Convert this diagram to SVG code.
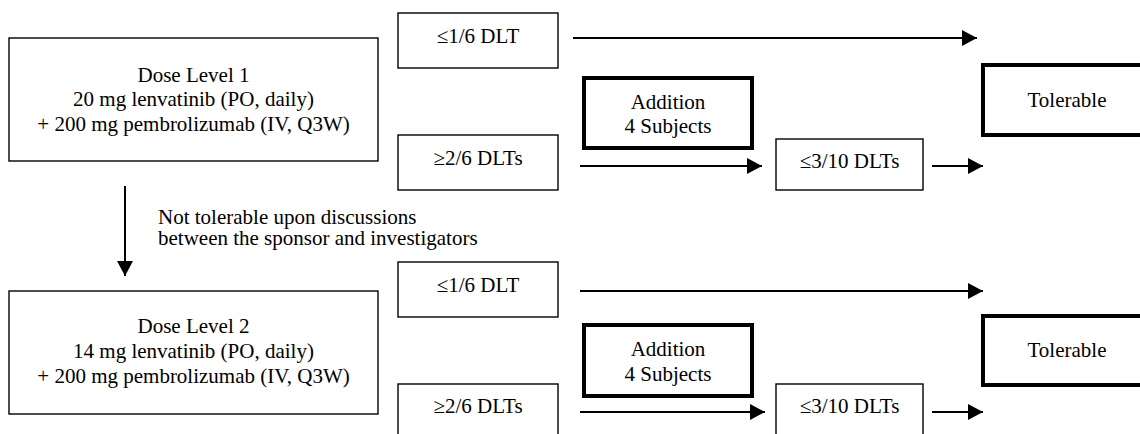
<svg xmlns="http://www.w3.org/2000/svg" width="1140" height="434" viewBox="0 0 1140 434">
<defs>
<marker id="ahb" markerWidth="15" markerHeight="16" refX="15" refY="8" orient="auto" markerUnits="userSpaceOnUse" viewBox="0 0 15 16">
<path d="M0,0 L15,8 L0,16 Z" fill="#000"/>
</marker>
</defs>
<style>
text{font-family:"Liberation Serif","Times New Roman",serif;font-size:21px;fill:#000;text-anchor:middle}
.thin{fill:#fff;stroke:#000;stroke-width:1.4}
.thick{fill:#fff;stroke:#000;stroke-width:4}
.conn{stroke:#000;stroke-width:2;fill:none}
.lbl{text-anchor:start}
</style>
<rect width="1140" height="434" fill="#fff"/>
<g id="connectors">
<line class="conn" x1="573" y1="38" x2="977" y2="38" marker-end="url(#ahb)"/>
<line class="conn" x1="580" y1="166" x2="762" y2="166" marker-end="url(#ahb)"/>
<line class="conn" x1="932" y1="166" x2="983" y2="166" marker-end="url(#ahb)"/>
<line class="conn" x1="125" y1="186" x2="125" y2="276" marker-end="url(#ahb)"/>
<line class="conn" x1="580" y1="291" x2="983" y2="291" marker-end="url(#ahb)"/>
<line class="conn" x1="580" y1="412" x2="765" y2="412" marker-end="url(#ahb)"/>
<line class="conn" x1="932" y1="412" x2="983" y2="412" marker-end="url(#ahb)"/>
</g>
<g id="note">
<text class="lbl" x="158" y="224">Not tolerable upon discussions</text>
<text class="lbl" x="158" y="245">between the sponsor and investigators</text>
</g>
<g id="dose1">
<rect class="thin" x="9" y="38" width="369" height="123"/>
<text x="193.5" y="82">Dose Level 1</text>
<text x="193.5" y="106">20 mg lenvatinib (PO, daily)</text>
<text x="193.5" y="131">+ 200 mg pembrolizumab (IV, Q3W)</text>
</g>
<g id="dlt1a">
<rect class="thin" x="398" y="13" width="160" height="55"/>
<text x="478" y="43">≤1/6 DLT</text>
</g>
<g id="add1">
<rect class="thick" x="584" y="78" width="168" height="70"/>
<text x="668" y="109">Addition</text>
<text x="668" y="133">4 Subjects</text>
</g>
<g id="dlt1b">
<rect class="thin" x="398" y="135" width="160" height="55"/>
<text x="478" y="165">≥2/6 DLTs</text>
</g>
<g id="dlt1c">
<rect class="thin" x="776" y="139" width="147" height="51"/>
<text x="849.5" y="168">≤3/10 DLTs</text>
</g>
<g id="tol1">
<rect class="thick" x="983" y="65" width="172" height="70"/>
<text x="1067" y="107">Tolerable</text>
</g>
<g id="dose2">
<rect class="thin" x="9" y="291" width="369" height="123"/>
<text x="193.5" y="333">Dose Level 2</text>
<text x="193.5" y="358">14 mg lenvatinib (PO, daily)</text>
<text x="193.5" y="383">+ 200 mg pembrolizumab (IV, Q3W)</text>
</g>
<g id="dlt2a">
<rect class="thin" x="398" y="262" width="160" height="55"/>
<text x="478" y="292">≤1/6 DLT</text>
</g>
<g id="add2">
<rect class="thick" x="584" y="325" width="168" height="71"/>
<text x="668" y="356">Addition</text>
<text x="668" y="381">4 Subjects</text>
</g>
<g id="dlt2b">
<rect class="thin" x="398" y="384" width="160" height="60"/>
<text x="478" y="413">≥2/6 DLTs</text>
</g>
<g id="dlt2c">
<rect class="thin" x="776" y="384" width="147" height="60"/>
<text x="849.5" y="413">≤3/10 DLTs</text>
</g>
<g id="tol2">
<rect class="thick" x="983" y="316" width="172" height="69"/>
<text x="1067" y="357">Tolerable</text>
</g>
</svg>
